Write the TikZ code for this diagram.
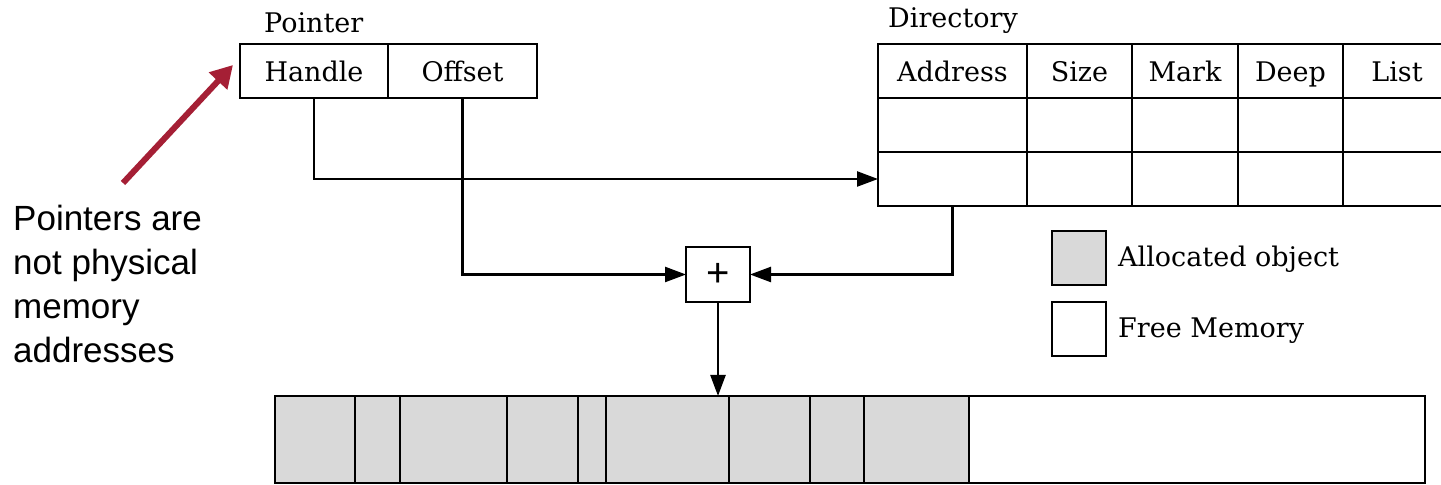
\documentclass[tikz,border=0pt]{standalone}
\usepackage{fontspec}
\setmainfont{DejaVu Serif}
\newfontfamily\notefont{Liberation Sans}
\usetikzlibrary{arrows.meta, positioning}

\begin{document}
\begin{tikzpicture}[x=0.5pt, y=-0.5pt, line width=1.2pt,
    %Style
    cell/.style={draw, outer sep=0pt, inner sep=0pt, minimum height=27pt,
      text height=13pt, text depth=2pt, font=\fontsize{13.5}{16}\selectfont},
    caption/.style={inner sep=0pt, font=\fontsize{13.5}{16}\selectfont},
    link/.style={-{Triangle[length=10.5pt, width=7.5pt]}},
    note/.style={inner sep=0pt, align=left, font=\notefont\fontsize{17.5}{22}\selectfont}]
    %Colors
    \colorlet{allocfill}{black!15}
    \definecolor{notecolor}{HTML}{A51F35}

    \clip (0,0) rectangle (1441,485);

    %Pointer
    \node[cell, minimum width=74pt] (handle) at (314,71) {Handle};
    \node[cell, minimum width=74.5pt, right=0pt of handle] (offset) {Offset};
    \node[caption, anchor=base west] (pointer label) at (263,33) {Pointer};

    %Directory
    \foreach \col/\cx/\w/\txt in {addr/952.5/74.5/Address, size/1079.5/52.5/Size,
        mark/1185/53/Mark, deep/1290.5/52.5/Deep, list/1397/54/List}
    {
      \node[cell, minimum width=\w pt] (\col0) at (\cx,71) {\txt};
      \node[cell, minimum width=\w pt] (\col1) at (\cx,125) {};
      \node[cell, minimum width=\w pt] (\col2) at (\cx,179) {};
    }
    \node[caption, anchor=base west] (dir label) at (887,28) {Directory};

    %Adder
    \node[cell, minimum width=32pt, minimum height=27.5pt, text height=, text depth=,
      font=\notefont\fontsize{20}{20}\selectfont] (plus) at (718,274.5) {+};

    %Memory
    \fill[allocfill] (275,396) rectangle (969,483);
    \foreach \x in {355, 400, 507, 578, 606, 729, 810, 864, 969}
      \draw (\x,396) -- (\x,483);
    \node[draw, inner sep=0pt, outer sep=0pt, minimum width=575pt,
      minimum height=43.5pt] (mem) at (850,439.5) {};

    %Legend
    \node[cell, fill=allocfill, minimum width=27pt] (alloc box) at (1079,258) {};
    \node[cell, minimum width=27pt] (free box) at (1079,329) {};
    \node[caption, anchor=base west] (alloc label) at (1117,267) {Allocated object};
    \node[caption, anchor=base west] (free label) at (1117,338) {Free Memory};

    %Connectors
    \draw[link] (handle.south) |- (addr2.west);
    \draw[link] (offset.south) |- (plus.west);
    \draw[link] (addr2.south) |- (plus.east);
    \draw[link] (plus.south) -- (plus.south |- mem.north);

    %Note
    \node[note, anchor=west] (note) at (12,284) {Pointers are\\not physical\\memory\\addresses};
    \coordinate (note tail) at (123,183);
    \coordinate (note tip) at (233,65);
    \draw[notecolor, line width=3pt, -{Triangle[length=11pt, width=12pt]}] (note tail) -- (note tip);
\end{tikzpicture}
\end{document}
